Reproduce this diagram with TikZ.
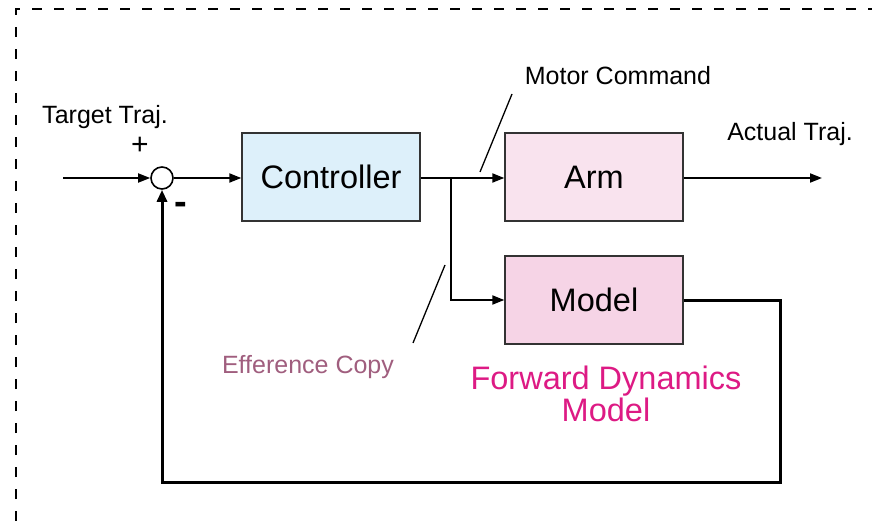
\documentclass[tikz,border=0pt]{standalone}
\usepackage{fontspec}
\setmainfont{Liberation Sans}
\usetikzlibrary{arrows.meta}
\definecolor{ctrlblue}{HTML}{DDF0FA}
\definecolor{armpink}{HTML}{F9E3EE}
\definecolor{modelpink}{HTML}{F6D4E6}
\definecolor{effcol}{HTML}{A05E7E}
\definecolor{fwdcol}{HTML}{DD1A84}
\begin{document}
\begin{tikzpicture}[x=1pt,y=-1pt,
    block/.style={draw=black!80,line width=1.3pt,minimum width=178pt,minimum height=88pt,inner sep=0pt,font=\fontsize{32.5}{36}\selectfont},
    lbl/.style={font=\fontsize{25}{28}\selectfont,inner sep=0pt},
    sig/.style={line width=1.8pt,-{Triangle[length=12pt,width=9pt]}},
    fb/.style={line width=3pt,-{Triangle[length=12pt,width=10pt]}}]
    \useasboundingbox (0,0) rectangle (872,521);
    % frame, cut at the edges
    \draw[line width=1.6pt,dash pattern=on 10pt off 12pt] (16,521) -- (16,9) -- (872,9);
    % blocks
    \node[block,fill=ctrlblue] (ctrl) at (331,177) {Controller};
    \node[block,fill=armpink] (arm) at (594,177) {Arm};
    \node[block,fill=modelpink] (model) at (594,300) {Model};
    \node[circle,draw,line width=1.6pt,fill=white,minimum size=22pt,inner sep=0pt] (sum) at (162,178) {};
    % labels
    \node[lbl] (target) at (105,117) {Target Traj.};
    \node[font=\fontsize{30}{30}\selectfont,inner sep=0pt] (plus) at (140,146) {+};
    \node[font=\bfseries\fontsize{38}{38}\selectfont,inner sep=0pt] (minus) at (181,208) {-};
    \node[lbl] (motor) at (618,76) {Motor Command};
    \node[lbl] (actual) at (790,134) {Actual Traj.};
    \node[lbl,text=effcol] (eff) at (308,367) {Efference Copy};
    \node[font=\fontsize{32.5}{32}\selectfont,text=fwdcol,align=center,inner sep=0pt] (fwd) at (606,394) {Forward Dynamics\\Model};
    \coordinate (in) at (63,178);
    \coordinate (split) at (451,178);
    \coordinate (out) at (822,178);
    \coordinate (motortip) at (480,172);
    \coordinate (motorend) at (512,94);
    \coordinate (efftip) at (445,265);
    \coordinate (effend) at (413,343);
    % signals
    \draw[sig] (in) -- (sum.west);
    \draw[sig] (sum.east) -- (ctrl.west |- sum);
    \draw[sig] (ctrl.east |- sum) -- (arm.west |- sum);
    \draw[sig] (split) |- (model.west);
    \draw[sig] (arm.east |- sum) -- (out);
    \draw[fb] (model.east) -- (780,300) -- (780,482) -- (162,482) -- (sum.south);
    % leaders
    \draw[line width=1.3pt] (motortip) -- (motorend);
    \draw[line width=1.3pt] (efftip) -- (effend);
\end{tikzpicture}
\end{document}
